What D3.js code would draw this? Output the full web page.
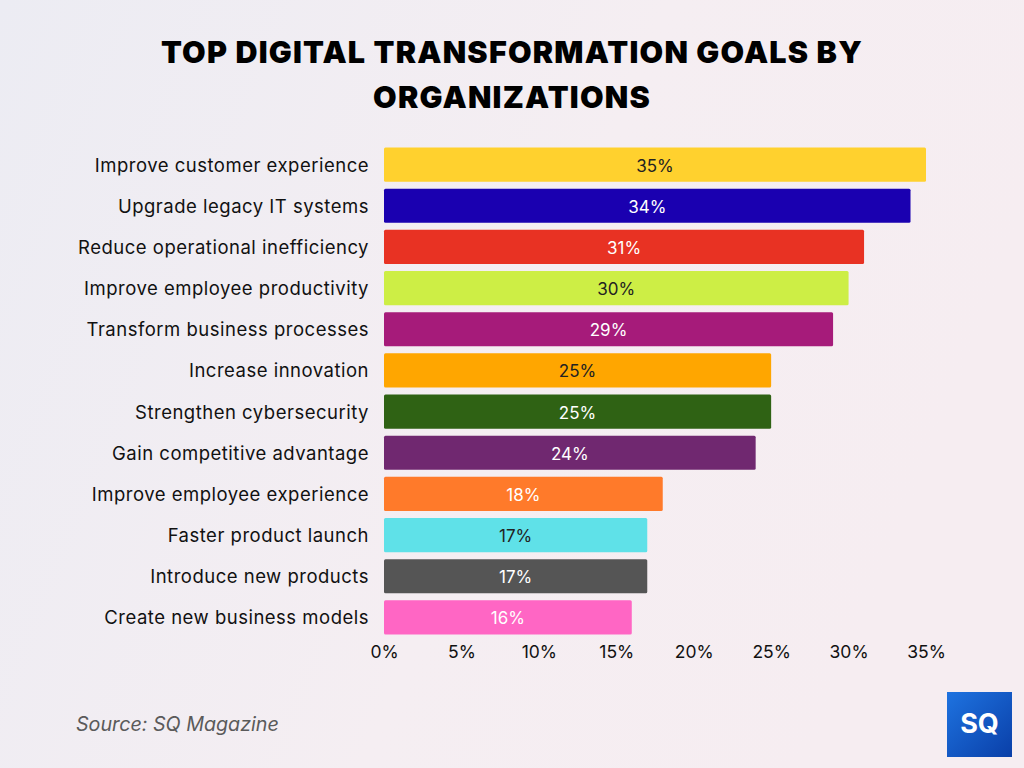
<!DOCTYPE html>
<html>
<head>
<meta charset="utf-8">
<script src="https://cdn.jsdelivr.net/npm/d3@7"></script>
<style>
  html, body { margin: 0; padding: 0; }
  body { width: 1024px; height: 768px; overflow: hidden; }
</style>
</head>
<body>
<div id="chart"></div>
<script>
var w = 1024;
var h = 768;

var goals = [
  "Improve customer experience",
  "Upgrade legacy IT systems",
  "Reduce operational inefficiency",
  "Improve employee productivity",
  "Transform business processes",
  "Increase innovation",
  "Strengthen cybersecurity",
  "Gain competitive advantage",
  "Improve employee experience",
  "Faster product launch",
  "Introduce new products",
  "Create new business models"
];
var shares = [35, 34, 31, 30, 29, 25, 25, 24, 18, 17, 17, 16];
var barColors = ["#FFD12E", "#1A00B0", "#E83223", "#CDEE45", "#A61B7A", "#FFA600",
                 "#2F6214", "#702870", "#FF7A2A", "#5FE1E8", "#555555", "#FF66C4"];
var labelColors = ["#222", "#fff", "#fff", "#222", "#fff", "#222",
                   "#fff", "#fff", "#fff", "#222", "#fff", "#fff"];
var ticks = [0, 5, 10, 15, 20, 25, 30, 35];

var svg = d3.select("#chart")
            .append("svg")
            .attr("width", w)
            .attr("height", h);

// background
var defs = svg.append("defs");
var grad = defs.append("linearGradient")
               .attr("id", "bg")
               .attr("x1", "0").attr("y1", "0")
               .attr("x2", "1").attr("y2", "0.3");
grad.append("stop").attr("offset", "0%").attr("stop-color", "#ECECF3");
grad.append("stop").attr("offset", "60%").attr("stop-color", "#F5EEF2");
grad.append("stop").attr("offset", "100%").attr("stop-color", "#F6EDF1");

svg.append("rect")
   .attr("width", w)
   .attr("height", h)
   .attr("fill", "url(#bg)");

// title
var title = svg.append("text")
               .attr("text-anchor", "middle")
               .style("font-family", "Inter, Roboto, sans-serif")
               .style("font-weight", 900)
               .style("font-size", "30.5px")
               .style("letter-spacing", "1.2px")
               .style("fill", "#000");
title.append("tspan").attr("x", 512).attr("y", 63).text("TOP DIGITAL TRANSFORMATION GOALS BY");
title.append("tspan").attr("x", 512).attr("y", 108).text("ORGANIZATIONS");

var x = d3.scaleLinear()
          .domain([0, 35])
          .range([384, 926]);

var y = d3.scaleBand()
          .domain(goals)
          .range([144, 638])
          .paddingInner(0.17)
          .paddingOuter(0.085);

svg.selectAll("rect.bar")
   .data(goals)
   .enter()
   .append("rect")
   .attr("class", "bar")
   .attr("x", x(0))
   .attr("y", function(d) { return y(d); })
   .attr("width", function(d, i) { return x(shares[i]) - x(0); })
   .attr("height", y.bandwidth())
   .attr("rx", 1.5)
   .style("fill", function(d, i) { return barColors[i]; });

svg.selectAll("text.value")
   .data(goals)
   .enter()
   .append("text")
   .attr("class", "value")
   .attr("x", function(d, i) { return (x(0) + x(shares[i])) / 2; })
   .attr("y", function(d) { return y(d) + y.bandwidth() / 2 + 1; })
   .attr("dy", "0.35em")
   .attr("text-anchor", "middle")
   .style("font-family", "Inter, 'Noto Sans', sans-serif")
   .style("font-size", "17px")
   .style("fill", function(d, i) { return labelColors[i]; })
   .text(function(d, i) { return shares[i] + "%"; });

// category axis
var yAxis = svg.append("g")
               .attr("transform", "translate(" + x(0) + ",1)")
               .call(d3.axisLeft(y).tickSize(0).tickPadding(15));
yAxis.select(".domain").remove();
yAxis.selectAll("text")
     .style("font-family", "Inter, 'Noto Sans', sans-serif")
     .style("font-size", "18.5px")
     .style("letter-spacing", "0.5px")
     .style("fill", "#111");

// value axis
var xAxis = svg.append("g")
               .attr("transform", "translate(0,643)")
               .call(d3.axisBottom(x).tickValues(ticks).tickSize(0).tickPadding(3)
                       .tickFormat(function(d) { return d + "%"; }));
xAxis.select(".domain").remove();
xAxis.selectAll("text")
     .style("font-family", "Inter, 'Noto Sans', sans-serif")
     .style("font-size", "17.5px")
     .style("fill", "#111");

// source
svg.append("text")
   .attr("x", 76)
   .attr("y", 731)
   .style("font-family", "Inter, 'Noto Sans', sans-serif")
   .style("font-style", "italic")
   .style("font-size", "19.7px")
   .style("fill", "#5a5a5a")
   .text("Source: SQ Magazine");

// logo
var lg = defs.append("linearGradient")
             .attr("id", "logo")
             .attr("x1", "0").attr("y1", "0")
             .attr("x2", "1").attr("y2", "1");
lg.append("stop").attr("offset", "0%").attr("stop-color", "#1E73E0");
lg.append("stop").attr("offset", "100%").attr("stop-color", "#0A3FA8");

svg.append("rect")
   .attr("x", 947)
   .attr("y", 692)
   .attr("width", 65)
   .attr("height", 65)
   .style("fill", "url(#logo)");

svg.append("text")
   .attr("x", 979.5)
   .attr("y", 733)
   .attr("text-anchor", "middle")
   .style("font-family", "Inter, Roboto, sans-serif")
   .style("font-weight", 700)
   .style("font-size", "27px")
   .style("fill", "#fff")
   .text("SQ");
</script>
</body>
</html>
